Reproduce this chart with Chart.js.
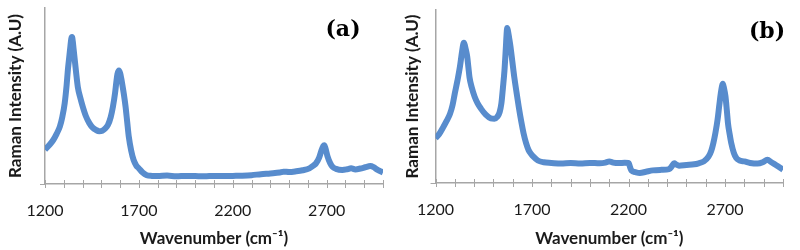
<!DOCTYPE html>
<html>
<head>
<meta charset="utf-8">
<script src="https://cdn.jsdelivr.net/npm/chart.js@4.4.1/dist/chart.umd.min.js"></script>
<style>
  html, body { margin: 0; padding: 0; background: #fff; }
  #wrap { position: relative; width: 800px; height: 250px; }
  .panel { position: absolute; top: 0; width: 400px; height: 250px; }
  .tag { position: absolute; font: bold 22px "DejaVu Serif", serif; color: #000; transform: translate(-50%, -50%); }
</style>
</head>
<body>
<div id="wrap">
  <div class="panel" style="left:0"><canvas id="chartA" width="400" height="250"></canvas></div>
  <div class="panel" style="left:400px"><canvas id="chartB" width="400" height="250"></canvas></div>
  <div class="tag" style="left:343px; top:28px">(a)</div>
  <div class="tag" style="left:767px; top:30px">(b)</div>
</div>
<script>
// wavenumber (cm-1) and intensity (arbitrary units, 0-100 of the axis height)
const wavenumbersA = [1200, 1222, 1244, 1262, 1279, 1292, 1305, 1315, 1322, 1330, 1335, 1340, 1344, 1348, 1352, 1357, 1366, 1375, 1388, 1401,
    1418, 1436, 1454, 1471, 1489, 1505, 1520, 1535, 1550, 1562, 1573, 1580, 1586, 1594, 1600, 1606, 1611, 1620, 1629, 1638,
    1646, 1659, 1672, 1686, 1699, 1720, 1742, 1770, 1800, 1850, 1900, 1950, 2000, 2050, 2100, 2150, 2200, 2250, 2300, 2350,
    2400, 2450, 2470, 2500, 2538, 2572, 2608, 2630, 2643, 2660, 2672, 2682, 2687, 2693, 2705, 2718, 2731, 2750, 2783, 2810,
    2830, 2853, 2880, 2905, 2932, 2950, 2967, 2985, 3000];
const intensityA = [19.5, 22, 25, 28.5, 32.6, 38, 46, 56, 65, 73, 78, 82.5, 83.5, 81, 77, 72, 63, 55, 49, 44,
    38.5, 34.6, 32, 30.7, 30, 30.3, 31.5, 33.5, 38, 44, 51.6, 58, 62.5, 64.5, 63, 60, 57, 51, 44, 35,
    27, 19, 13.6, 10.5, 9, 6.5, 5, 4.6, 4.5, 4.8, 4.4, 4.6, 4.5, 4.4, 4.6, 4.5, 4.6, 4.7, 5.0, 5.6,
    6.0, 6.5, 7.0, 6.8, 7.2, 7.8, 8.9, 10.5, 11.7, 15, 19, 21.5, 22, 20.5, 15.5, 12, 9.8, 8.6, 8, 8.4,
    8.9, 8.3, 8.8, 9.5, 10.2, 9.6, 8.3, 7.3, 6.6];

const wavenumbersB = [1200, 1220, 1241, 1258, 1275, 1288, 1300, 1313, 1326, 1336, 1343, 1347, 1352, 1358, 1364, 1370, 1376, 1388, 1402, 1418,
    1435, 1460, 1486, 1505, 1520, 1532, 1541, 1549, 1557, 1564, 1568, 1571, 1575, 1581, 1588, 1598, 1608, 1620, 1631, 1644,
    1656, 1669, 1682, 1695, 1707, 1730, 1760, 1800, 1850, 1900, 1950, 2000, 2050, 2080, 2100, 2120, 2150, 2180, 2200, 2208,
    2215, 2235, 2258, 2290, 2325, 2370, 2410, 2425, 2436, 2448, 2461, 2500, 2540, 2563, 2590, 2614, 2628, 2639, 2650, 2661,
    2670, 2678, 2684, 2688, 2694, 2702, 2709, 2715, 2724, 2732, 2745, 2758, 2775, 2800, 2830, 2868, 2895, 2919, 2940, 2961,
    2985, 3000];
const intensityB = [25.8, 28.5, 32.5, 36, 40, 45, 52, 59, 67, 75, 80, 81, 79.5, 76.5, 73, 67, 61, 55, 50, 46,
    43, 39.5, 37.4, 37.2, 38.3, 41, 46, 55, 65, 78, 86, 89.6, 88, 84, 79, 70, 61, 52, 44, 35.5,
    28.7, 23, 19, 16.8, 15.2, 13, 12, 11.6, 11.2, 11.5, 11.3, 11.6, 11.4, 11.8, 12.5, 11.8, 11.5, 11.7, 11.6, 9,
    7.2, 6.3, 5.8, 6.5, 7.3, 7.6, 8, 9.8, 11.4, 10.6, 10, 10.4, 10.8, 11.4, 12.5, 15.2, 18.5, 23, 29, 36.6,
    45, 52, 56, 57.3, 55, 50, 42, 34.5, 28, 23, 17.5, 14.4, 13, 12.5, 11.6, 11.2, 12, 13.5, 12, 10.6,
    8.8, 7.7];

const tickLabels = [1200, 1700, 2200, 2700];

const lineColor = 'rgb(88, 140, 205)';
const axisColor = '#a6a6a6';

// excel style tick marks that cross the axis line
const crossTicks = {
    id: 'crossTicks',
    afterDraw(chart) {
        const ctx = chart.ctx;
        const xs = chart.scales.x, ys = chart.scales.y;
        const y0 = ys.getPixelForValue(0);
        const x0 = xs.getPixelForValue(1200);
        ctx.save();
        ctx.strokeStyle = axisColor;
        ctx.lineWidth = 1;
        ctx.beginPath();
        xs.ticks.forEach(t => {
            const px = Math.round(xs.getPixelForValue(t.value)) + 0.5;
            ctx.moveTo(px, y0 - 4);
            ctx.lineTo(px, y0 + 4);
        });
        ctx.moveTo(x0 - 5, Math.round(y0) + 0.5);
        ctx.lineTo(x0, Math.round(y0) + 0.5);
        ctx.stroke();
        ctx.restore();
    }
};

function buildChart(id, xs, ys, opts) {
    const ctx = document.getElementById(id).getContext('2d');
    return new Chart(ctx, {
        type: 'line',
        data: {
            datasets: [{
                data: xs.map((x, i) => ({ x: x, y: ys[i] })),
                borderColor: lineColor,
                borderWidth: 6,
                pointRadius: 0,
                cubicInterpolationMode: 'monotone',
                fill: false
            }]
        },
        options: {
            responsive: false, animation: false,
            layout: { padding: { left: 0, top: opts.top, right: opts.right, bottom: 0 } },
            plugins: { legend: { display: false }, tooltip: { enabled: false } },
            scales: {
                x: {
                    type: 'linear', min: 1200, max: 3000,
                    afterFit: (s) => { s.height = opts.xHeight; },
                    grid: { drawOnChartArea: false, drawTicks: false },
                    border: { color: axisColor, width: 1.5 },
                    ticks: {
                        stepSize: 100, padding: 17, maxRotation: 0, autoSkip: false,
                        color: '#1a1a1a', font: { family: 'Lato', size: 16 },
                        callback: (v) => tickLabels.includes(v) ? String(v) : ''
                    },
                    title: {
                        display: true, text: 'Wavenumber (cm\u207B\u00B9)', color: '#1a1a1a',
                        font: { family: 'Lato', size: 17, weight: 'bold' }, padding: { top: 0, bottom: 1 }
                    }
                },
                y: {
                    min: 0, max: 100,
                    afterFit: (s) => { s.width = opts.yWidth; },
                    grid: { drawOnChartArea: false, drawTicks: false },
                    border: { color: axisColor, width: 1.5 },
                    ticks: { display: false },
                    title: {
                        display: true, text: 'Raman Intensity (A.U)', color: '#1a1a1a',
                        font: { family: 'Lato', size: 17, weight: 'bold', lineHeight: 1 },
                        padding: { top: opts.yTitlePad, bottom: 0 }
                    }
                }
            }
        },
        plugins: [crossTicks]
    });
}

buildChart('chartA', wavenumbersA, intensityA, { top: 8, right: 12, xHeight: 66, yWidth: 45, yTitlePad: 7 });
buildChart('chartB', wavenumbersB, intensityB, { top: 10, right: 14, xHeight: 67, yWidth: 32, yTitlePad: 0 });
</script>
</body>
</html>
